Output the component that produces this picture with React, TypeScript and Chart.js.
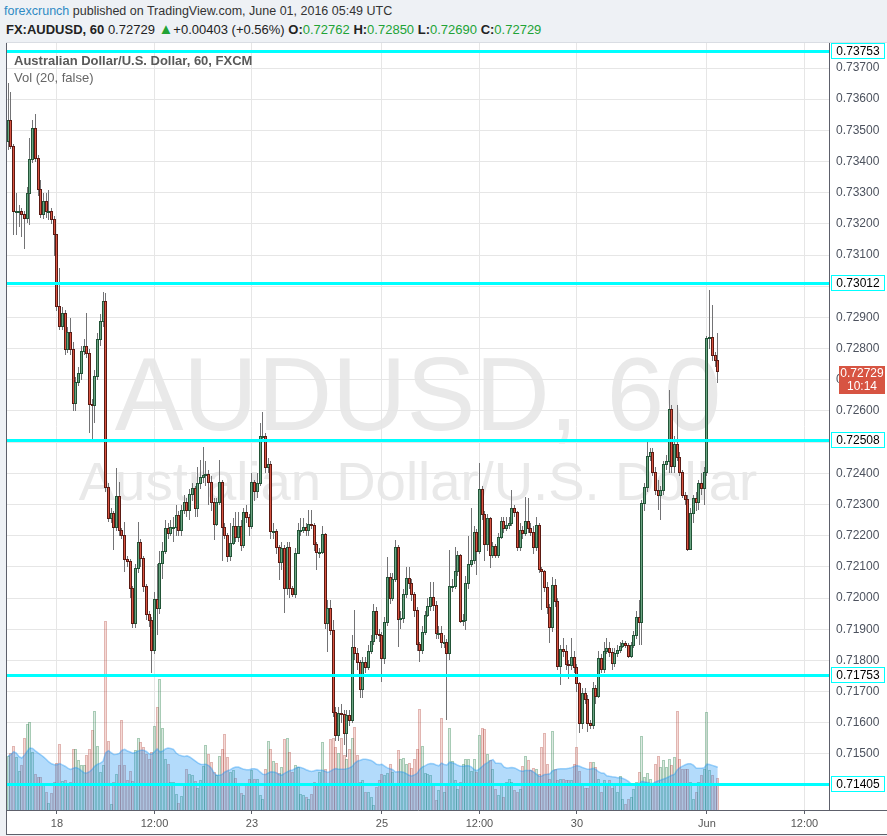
import React, { useEffect, useRef } from "react";
import { Chart, registerables } from "chart.js";

Chart.register(...registerables);

// ---------- data (hourly AUDUSD candles) ----------
const firstOpen = 0.73467;

const closes = [
  0.73533, 0.7345, 0.73241, 0.73241, 0.73241, 0.73231, 0.73218, 0.733, 0.73407, 0.73509, 0.7341, 0.73311,
  0.73231, 0.73274, 0.73241, 0.73241, 0.73215, 0.73167, 0.72938, 0.72874, 0.72913, 0.72798, 0.72852, 0.72798,
  0.72625, 0.72694, 0.72721, 0.72793, 0.72809, 0.72787, 0.72621, 0.72619, 0.72713, 0.7283, 0.72889, 0.72953,
  0.72357, 0.72256, 0.72272, 0.72229, 0.72327, 0.72218, 0.72202, 0.72126, 0.72119, 0.72031, 0.71919, 0.72095,
  0.72179, 0.72127, 0.72039, 0.71948, 0.7193, 0.71834, 0.71996, 0.71969, 0.72114, 0.72152, 0.72224, 0.72208,
  0.72229, 0.72229, 0.72265, 0.72218, 0.72283, 0.72308, 0.72283, 0.72333, 0.72352, 0.72288, 0.72368, 0.72389,
  0.72395, 0.72397, 0.72373, 0.72309, 0.72238, 0.72309, 0.72373, 0.72229, 0.72202,
  0.72135, 0.72178, 0.72231, 0.72197, 0.72231, 0.72169, 0.72275, 0.72261, 0.72231, 0.72371, 0.72343, 0.7237,
  0.7252, 0.72521, 0.72421, 0.72429, 0.72215, 0.72215, 0.72165, 0.72115, 0.7216, 0.72031, 0.72165, 0.72031,
  0.72012, 0.72146, 0.72218, 0.72218, 0.72229, 0.72218, 0.72237, 0.72234, 0.72172, 0.72147, 0.72147, 0.72205,
  0.71919, 0.71967, 0.71898, 0.71636, 0.71561, 0.7163,
  0.71627, 0.71568, 0.71625, 0.71609, 0.71844, 0.71825, 0.71794, 0.71707, 0.71796, 0.7178, 0.71831, 0.71863,
  0.71959, 0.71884, 0.71882, 0.71807, 0.71924, 0.72069, 0.72001, 0.7206, 0.72163, 0.71933, 0.71935, 0.72012,
  0.72063, 0.72047, 0.72012, 0.71962, 0.71852, 0.71834, 0.7189, 0.71946, 0.71975, 0.72003, 0.71978, 0.71887,
  0.71887, 0.71858, 0.71858, 0.71825, 0.72039, 0.72039,
  0.72088, 0.72138, 0.71928, 0.7193, 0.72047, 0.72108, 0.72122, 0.72211, 0.72151, 0.72349, 0.72269, 0.72172,
  0.72256, 0.72138, 0.72167, 0.72138, 0.72195, 0.72248, 0.72224, 0.72234, 0.72242, 0.7229, 0.72275, 0.72163,
  0.72218, 0.72208, 0.72248, 0.72224, 0.72213, 0.72165, 0.72233, 0.72092, 0.72088, 0.72035, 0.7197, 0.71906,
  0.72042, 0.71989, 0.71782, 0.71836, 0.7183, 0.71788, 0.71785, 0.71812, 0.71778, 0.71727,
  0.716, 0.71695, 0.71675, 0.71598, 0.71593, 0.71713, 0.71687, 0.71807, 0.71772, 0.71831, 0.71839, 0.71826,
  0.71793, 0.71823, 0.71834, 0.71846, 0.71855, 0.71849, 0.71814, 0.7185, 0.71882, 0.71938, 0.71924, 0.72304,
  0.72355, 0.72456, 0.72467, 0.72403, 0.72345, 0.72331, 0.72347, 0.72429, 0.7244, 0.72605, 0.72424, 0.72494,
  0.72454, 0.72405, 0.72331, 0.72317, 0.72156, 0.72272, 0.72322, 0.72307, 0.72368, 0.72352, 0.72403, 0.72833,
  0.72838, 0.7278, 0.72762, 0.72729,
];

const highs = [
  0.73651, 0.73624, 0.73455, 0.73298, 0.7326, 0.7325, 0.7324, 0.73319, 0.73475, 0.73533, 0.73551, 0.7342,
  0.73341, 0.733, 0.733, 0.73309, 0.7325, 0.73225, 0.73167, 0.73058, 0.72935, 0.72925, 0.7287, 0.72897,
  0.7282, 0.7271, 0.7274, 0.7281, 0.7283, 0.72913, 0.728, 0.7264, 0.7273, 0.7285, 0.7291, 0.72982,
  0.72977, 0.7237, 0.7229, 0.7228, 0.72416, 0.72373, 0.72225, 0.72245, 0.72135, 0.72125, 0.7204, 0.7211,
  0.72245, 0.7219, 0.72135, 0.72045, 0.7196, 0.7194, 0.7202, 0.7211, 0.7215, 0.7218, 0.7225, 0.7224,
  0.7225, 0.7226, 0.723, 0.7228, 0.723, 0.7233, 0.7232, 0.7235, 0.7237, 0.7236, 0.7242, 0.72443,
  0.72486, 0.7244, 0.7241, 0.7239, 0.7232, 0.7232, 0.72443, 0.7238, 0.7224,
  0.7221, 0.7224, 0.72256, 0.72275, 0.72275, 0.7225, 0.7229, 0.723, 0.7227, 0.724, 0.7238, 0.724,
  0.7256, 0.72598, 0.7253, 0.7245, 0.7244, 0.7224, 0.7222, 0.7217, 0.7218, 0.7217, 0.7218, 0.7218,
  0.7204, 0.7216, 0.7224, 0.72256, 0.72256, 0.7224, 0.72283, 0.72283, 0.7224, 0.7218, 0.7216, 0.7223,
  0.7221, 0.71994, 0.71994, 0.7193, 0.7165, 0.7165,
  0.7166, 0.7164, 0.7164, 0.7164, 0.7188, 0.71962, 0.7184, 0.718, 0.7181, 0.7181, 0.7185, 0.7188,
  0.7198, 0.7197, 0.719, 0.7189, 0.7194, 0.72133, 0.7208, 0.7208, 0.72186, 0.7217, 0.7196, 0.7203,
  0.72101, 0.72101, 0.7206, 0.7202, 0.7197, 0.7186, 0.7191, 0.7196, 0.72, 0.72053, 0.72053, 0.7199,
  0.7191, 0.7191, 0.7188, 0.7187, 0.72154, 0.7206,
  0.72163, 0.7215, 0.7214, 0.7195, 0.7207, 0.722, 0.72288, 0.7223, 0.7222, 0.72432, 0.7236, 0.7228,
  0.7227, 0.7226, 0.7218, 0.72175, 0.7221, 0.7226, 0.7226, 0.7226, 0.7226, 0.72347, 0.723, 0.7228,
  0.7224, 0.7223, 0.72325, 0.7232, 0.7224, 0.7223, 0.7226, 0.7224, 0.721, 0.7209, 0.7205, 0.7198,
  0.72069, 0.7206, 0.72, 0.7185, 0.71871, 0.7185, 0.718, 0.71871, 0.7183, 0.7179,
  0.7173, 0.7171, 0.7171, 0.7169, 0.7161, 0.7173, 0.7172, 0.7183, 0.7182, 0.7186, 0.71871, 0.7186,
  0.7184, 0.7184, 0.7185, 0.7186, 0.71865, 0.71862, 0.71855, 0.7186, 0.71895, 0.7196, 0.71994, 0.72315,
  0.7237, 0.72502, 0.7248, 0.7248, 0.7242, 0.7238, 0.7236, 0.7244, 0.7246, 0.72667, 0.7262, 0.7252,
  0.72619, 0.7247, 0.7241, 0.7234, 0.7233, 0.7229, 0.7233, 0.7234, 0.7238, 0.724, 0.7242, 0.7284,
  0.72988, 0.7294, 0.7279, 0.7285,
];

const lows = [
  0.73437, 0.7344, 0.73164, 0.73164, 0.73191, 0.73159, 0.73119, 0.73202, 0.73196, 0.73395, 0.734, 0.7329,
  0.7322, 0.73215, 0.7322, 0.73212, 0.732, 0.73098, 0.7292, 0.7286, 0.7286, 0.7278, 0.72785, 0.7278,
  0.726, 0.726, 0.7268, 0.727, 0.7278, 0.7277, 0.7253, 0.7251, 0.7256, 0.727, 0.7281, 0.7287,
  0.7234, 0.72245, 0.7224, 0.72154, 0.72215, 0.722, 0.7219, 0.72085, 0.721, 0.72, 0.71905, 0.71905,
  0.7208, 0.721, 0.7202, 0.7193, 0.71908, 0.71759, 0.7182, 0.7188, 0.7195, 0.7206, 0.7214, 0.7219,
  0.722, 0.7218, 0.722, 0.722, 0.722, 0.7227, 0.7226, 0.7225, 0.7231, 0.7226, 0.7226, 0.7235,
  0.7237, 0.7236, 0.723, 0.7228, 0.72186, 0.7223, 0.723, 0.7212, 0.7219,
  0.72117, 0.7212, 0.7217, 0.7218, 0.7218, 0.7215, 0.7216, 0.7224, 0.722, 0.7222, 0.7231, 0.7232,
  0.7236, 0.725, 0.724, 0.724, 0.7219, 0.7219, 0.7214, 0.72058, 0.7209, 0.71951, 0.7201, 0.72,
  0.72004, 0.72, 0.7214, 0.722, 0.7221, 0.722, 0.722, 0.7222, 0.7215, 0.7209, 0.7213, 0.7214,
  0.719, 0.71828, 0.7188, 0.7162, 0.7154, 0.7154,
  0.716, 0.7153, 0.71491, 0.7159, 0.716, 0.718, 0.7177, 0.71679, 0.71679, 0.7176, 0.7177, 0.7182,
  0.7185, 0.7187, 0.7186, 0.71732, 0.7179, 0.7191, 0.7198, 0.7199, 0.7205, 0.71844, 0.719, 0.7192,
  0.72, 0.7203, 0.7199, 0.7194, 0.7183, 0.71796, 0.7182, 0.7188, 0.7194, 0.7196, 0.7196, 0.7187,
  0.7187, 0.7184, 0.7184, 0.71609, 0.718, 0.7202,
  0.7203, 0.7207, 0.7192, 0.7191, 0.71898, 0.7203, 0.721, 0.7211, 0.72074, 0.7214, 0.7225, 0.7212,
  0.7215, 0.72096, 0.7213, 0.7213, 0.7213, 0.7219, 0.7221, 0.72215, 0.7222, 0.7223, 0.7226, 0.7215,
  0.7215, 0.7219, 0.722, 0.7221, 0.722, 0.7214, 0.7215, 0.7208, 0.71962, 0.7202, 0.7195, 0.71855,
  0.7189, 0.7197, 0.7177, 0.71721, 0.7181, 0.7177, 0.7174, 0.7177, 0.7176, 0.717,
  0.71568, 0.7158, 0.7166, 0.7157, 0.7158, 0.7158, 0.7166, 0.7168, 0.71759, 0.7176, 0.7182, 0.7181,
  0.71769, 0.7178, 0.7181, 0.71825, 0.7184, 0.7184, 0.71807, 0.71807, 0.7184, 0.7187, 0.7185, 0.7185,
  0.7228, 0.7234, 0.7244, 0.7239, 0.7233, 0.72283, 0.7225, 0.7233, 0.7241, 0.724, 0.724, 0.724,
  0.7244, 0.7239, 0.7232, 0.723, 0.7215, 0.72156, 0.7224, 0.7228, 0.72283, 0.7233, 0.723, 0.7239,
  0.728, 0.7276, 0.7274, 0.7269,
];

const volumes = [
  54, 57, 64, 53, 39, 45, 72, 86, 88, 58, 36, 33, 33, 26, 18, 7, 17, 28, 47, 66, 29, 30, 26, 28, 61, 61, 50, 45,
  45, 55, 61, 80, 99, 64, 38, 45, 189, 69, 6, 28, 36, 45, 90, 45, 30, 39, 29, 60, 72, 68, 63, 56, 51, 58, 84, 103,
  131, 82, 51, 46, 28, 28, 16, 7, 14, 25, 41, 36, 35, 29, 22, 30, 44, 65, 56, 48, 38, 35, 54, 61, 76, 53, 38, 40,
  32, 25, 17,
  15, 25, 31, 40, 31, 31, 15, 11, 41, 69, 61, 49, 47, 37, 43, 71, 72, 58, 38, 45, 43, 16, 15, 13, 11, 16, 28, 26,
  38, 68, 41, 26, 71, 72, 63, 57, 72, 55, 51, 61, 72, 83, 55, 28, 30, 18, 18, 13, 5, 23, 30, 36, 35, 37, 46, 38,
  25, 60, 51, 52, 46, 47, 42, 51, 61, 101, 64, 37, 36, 35, 25, 10, 20, 92, 18, 27, 82, 49, 30, 21, 28, 46, 51, 51,
  39, 51, 38, 75,
  82, 81, 56, 50, 41, 21, 15, 25, 13, 28, 31, 28, 20, 18, 21, 44, 54, 50, 40, 42, 41, 36, 63, 77, 46, 31, 79, 41,
  30, 31, 31, 30, 30, 30, 46, 63, 39, 25, 22, 22, 48, 48, 43, 31, 18, 30, 26, 30, 22, 25, 18, 34, 11, 6, 11, 13,
  21, 28, 38, 74, 33, 37, 31, 25, 46, 54, 43, 50, 43, 51, 45, 53, 99, 51, 41, 41, 41, 28, 11, 18, 28, 35, 41, 98,
  40, 35, 25, 32,
];

const levelLines = [0.73753, 0.73012, 0.72508, 0.71753, 0.71405];
const priceTicks = [
  0.714, 0.715, 0.716, 0.717, 0.718, 0.719, 0.72, 0.721, 0.722, 0.723, 0.724, 0.725, 0.726, 0.727, 0.728, 0.729,
  0.73, 0.731, 0.732, 0.733, 0.734, 0.735, 0.736, 0.737,
];
const xTickIdx = [18, 54, 90, 138, 174, 210, 258, 294];
const xTickLabels = ["18", "12:00", "23", "25", "12:00", "30", "Jun", "12:00"];
const countdown = "10:14";
const dayChange = "+0.00403 (+0.56%)";
const maPeriod = 20;

// ---------- styling ----------
const FONT = '"Liberation Sans", Arial, Helvetica, sans-serif';
const UP_FILL = "#6ba583";
const UP_LINE = "#225437";
const DN_FILL = "#d75442";
const DN_LINE = "#5b1a13";
const WICK = "#737375";
const CYAN = "#00ffff";

const opens = closes.map((c, i) => (i === 0 ? firstOpen : closes[i - 1]));
const isUp = closes.map((c, i) => c >= opens[i]);

const snapPlugin = {
  id: "snapBars",
  beforeDatasetDraw(chart: any, args: any) {
    const ds: any = chart.data.datasets[args.index];
    if (!ds.snapKind) return;
    const ctx = chart.ctx;
    const a = chart.chartArea;
    ctx.save();
    ctx.beginPath();
    ctx.rect(a.left, a.top, a.right - a.left, a.bottom - a.top);
    ctx.clip();
    args.meta.data.forEach((el: any, i: number) => {
      const top = Math.round(Math.min(el.y, el.base));
      let bot = Math.round(Math.max(el.y, el.base));
      if (bot <= top) bot = top + 1;
      const left = Math.round(el.x - 1.5);
      const h = bot - top;
      if (ds.snapKind === "wick") {
        ctx.fillStyle = ds.backgroundColor;
        ctx.fillRect(left + 1, top, 1, h);
      } else if (ds.snapKind === "body") {
        ctx.fillStyle = ds.borderColor[i];
        ctx.fillRect(left, top, 3, h + 1);
        if (h > 1) {
          ctx.fillStyle = ds.backgroundColor[i];
          ctx.fillRect(left + 1, top + 1, 1, h - 1);
        }
      } else {
        ctx.fillStyle = ds.borderColor[i];
        ctx.fillRect(left, top, 1, h);
        ctx.fillRect(left + 2, top, 1, h);
        ctx.fillRect(left + 1, top, 1, 1);
        ctx.fillStyle = ds.backgroundColor[i];
        ctx.fillRect(left + 1, top + 1, 1, h - 1);
      }
    });
    ctx.restore();
    return false;
  },
};

const panelPlugin = {
  id: "panel",
  beforeDraw(chart: any) {
    const ctx = chart.ctx;
    const a = chart.chartArea;
    ctx.save();
    ctx.fillStyle = "#ffffff";
    ctx.fillRect(a.left - 1, 0, chart.width - a.left + 1, a.bottom + 24);
    const cx = (a.left + a.right) / 2;
    ctx.fillStyle = "#e9e9e9";
    ctx.textAlign = "center";
    ctx.textBaseline = "alphabetic";
    ctx.font = `103px ${FONT}`;
    ctx.fillText("AUDUSD, 60", cx, a.top + 387);
    ctx.font = `54.5px ${FONT}`;
    ctx.fillText("Australian Dollar/U.S. Dollar", cx, a.top + 457);
    ctx.restore();
  },
  afterDatasetsDraw(chart: any) {
    const ctx = chart.ctx;
    const a = chart.chartArea;
    const ys = chart.scales.y;
    ctx.save();
    ctx.fillStyle = CYAN;
    levelLines.forEach((v) => {
      const y = Math.round(ys.getPixelForValue(v));
      ctx.fillRect(a.left, y - 1, a.right - a.left, 3);
    });
    ctx.restore();
  },
  afterDraw(chart: any) {
    const ctx = chart.ctx;
    const a = chart.chartArea;
    const ys = chart.scales.y;
    ctx.save();
    // panel frame
    ctx.fillStyle = "#5d606b";
    ctx.fillRect(a.left - 1, 0, 1, a.bottom + 24);
    ctx.fillRect(a.right, a.bottom, chart.width - a.right, 1);
    ctx.fillRect(a.left - 1, a.bottom + 24, chart.width - a.left + 1, 1);
    ctx.fillStyle = "#d9dde3";
    ctx.fillRect(a.left - 1, 0, chart.width - a.left + 1, 1);
    // level labels
    ctx.font = `12px ${FONT}`;
    ctx.textAlign = "center";
    ctx.textBaseline = "middle";
    const lx = a.right + 2;
    const lw = 54;
    levelLines.forEach((v) => {
      const y = Math.round(ys.getPixelForValue(v));
      ctx.fillStyle = "#ffffff";
      ctx.fillRect(lx, y - 8, lw, 16);
      ctx.strokeStyle = CYAN;
      ctx.lineWidth = 1;
      ctx.strokeRect(lx + 0.5, y - 7.5, lw - 1, 15);
      ctx.fillStyle = "#000000";
      ctx.fillText(v.toFixed(5), lx + lw / 2, y + 0.5);
    });
    // last price label
    const last = closes[closes.length - 1];
    const py = Math.round(ys.getPixelForValue(last));
    const rx = a.right + 10;
    ctx.fillStyle = isUp[isUp.length - 1] ? UP_FILL : DN_FILL;
    ctx.fillRect(rx, py - 5, 46, 28);
    ctx.fillStyle = "#ffffff";
    ctx.fillText(last.toFixed(5), rx + 23, py + 2.5);
    ctx.fillText(countdown, rx + 23, py + 15.5);
    ctx.restore();
  },
};

export default function App() {
  const ref = useRef<HTMLCanvasElement | null>(null);

  useEffect(() => {
    document.body.style.margin = "0";
    const canvas = ref.current;
    if (!canvas) return;

    const ma = volumes.map((v, i) => {
      const s = Math.max(0, i - maPeriod + 1);
      const win = volumes.slice(s, i + 1);
      return win.reduce((p, q) => p + q, 0) / win.length;
    });

    const chart = new Chart(canvas, {
      type: "bar",
      data: {
        datasets: [
          {
            type: "bar",
            snapKind: "vol",
            order: 4,
            yAxisID: "yv",
            grouped: false,
            barThickness: 3,
            data: volumes.map((v, i) => ({ x: i, y: v })),
            backgroundColor: isUp.map((u) => (u ? "rgba(107,165,131,0.24)" : "rgba(215,84,66,0.22)")),
            borderColor: isUp.map((u) => (u ? "rgba(60,140,90,0.45)" : "rgba(180,70,60,0.4)")),
          } as any,
          {
            type: "line",
            order: 3,
            yAxisID: "yv",
            data: ma.map((v, i) => ({ x: i, y: v })),
            borderColor: "rgba(33,150,243,0.4)",
            borderWidth: 1.5,
            backgroundColor: "rgba(33,150,243,0.34)",
            fill: "origin",
            pointRadius: 0,
            tension: 0,
          } as any,
          {
            type: "bar",
            snapKind: "wick",
            order: 2,
            yAxisID: "y",
            grouped: false,
            barThickness: 1,
            data: closes.map((c, i) => ({ x: i, y: [lows[i], highs[i]] })),
            backgroundColor: WICK,
          } as any,
          {
            type: "bar",
            snapKind: "body",
            order: 1,
            yAxisID: "y",
            grouped: false,
            barThickness: 3,
            data: closes.map((c, i) => ({ x: i, y: [opens[i], c] })),
            backgroundColor: isUp.map((u) => (u ? UP_FILL : DN_FILL)),
            borderColor: isUp.map((u) => (u ? UP_LINE : DN_LINE)),
          } as any,
        ],
      },
      options: {
        animation: false,
        responsive: false,
        maintainAspectRatio: false,
        devicePixelRatio: 1,
        events: [],
        layout: { padding: { left: 7, top: 1, right: 0, bottom: 2 } },
        plugins: { legend: { display: false }, tooltip: { enabled: false } },
        scales: {
          x: {
            type: "linear",
            position: "bottom",
            min: -0.46,
            max: 303.08,
            offset: false,
            afterBuildTicks: (s: any) => {
              s.ticks = xTickIdx.map((v) => ({ value: v }));
            },
            afterFit: (s: any) => {
              s.height = 24;
              s.paddingLeft = 0;
              s.paddingRight = 0;
            },
            ticks: {
              autoSkip: false,
              maxRotation: 0,
              padding: 3,
              color: "#555",
              font: { family: FONT, size: 11 },
              callback: (v: any) => xTickLabels[xTickIdx.indexOf(v)] ?? "",
            },
            grid: { offset: false, color: "#e6e6e6", tickColor: "#5d606b", tickLength: 4, drawTicks: true },
            border: { display: true, color: "#5d606b" },
          },
          y: {
            type: "linear",
            position: "right",
            min: 0.713203,
            max: 0.737802,
            afterBuildTicks: (s: any) => {
              s.ticks = priceTicks.map((v) => ({ value: v }));
            },
            afterFit: (s: any) => {
              s.width = 58;
              s.paddingTop = 0;
              s.paddingBottom = 0;
            },
            ticks: {
              autoSkip: false,
              padding: 7,
              color: "#4c525e",
              font: { family: FONT, size: 12 },
              callback: (v: any) => Number(v).toFixed(5),
            },
            grid: { color: "#e6e6e6", drawTicks: false },
            border: { display: true, color: "#5d606b" },
          },
          yv: { type: "linear", display: false, min: 0, max: 767 },
        },
      } as any,
      plugins: [panelPlugin, snapPlugin],
    } as any);

    return () => chart.destroy();
  }, []);

  const n = closes.length;
  const green = { color: "#21a336" };
  return (
    <div
      style={{
        position: "relative",
        width: 887,
        height: 836,
        background: "#eef1f5",
        overflow: "hidden",
        fontFamily: FONT,
      }}
    >
      <div style={{ position: "absolute", left: 4, top: 3, fontSize: 12.5, lineHeight: "16px", color: "#333", whiteSpace: "nowrap" }}>
        <span style={{ color: "#2f8ac4" }}>forexcrunch</span> published on TradingView.com, June 01, 2016 05:49 UTC
      </div>
      <div style={{ position: "absolute", left: 6, top: 21, fontSize: 13, lineHeight: "16px", color: "#222", whiteSpace: "nowrap" }}>
        <b>FX:AUDUSD, 60</b> {closes[n - 1].toFixed(5)} <span style={{ ...green, fontSize: 15 }}>▲</span>
        {dayChange} <b>O:</b>
        <span style={green}>{opens[n - 1].toFixed(5)}</span> <b>H:</b>
        <span style={green}>{highs[n - 1].toFixed(5)}</span> <b>L:</b>
        <span style={green}>{lows[n - 1].toFixed(5)}</span> <b>C:</b>
        <span style={green}>{closes[n - 1].toFixed(5)}</span>
      </div>
      <canvas
        ref={ref}
        width={887}
        height={794}
        style={{ position: "absolute", left: 0, top: 42, width: 887, height: 794 }}
      />
      <div style={{ position: "absolute", left: 14, top: 53, fontSize: 13, lineHeight: "16px", fontWeight: "bold", color: "#5a5a5a", whiteSpace: "nowrap" }}>
        Australian Dollar/U.S. Dollar, 60, FXCM
      </div>
      <div style={{ position: "absolute", left: 14, top: 70, fontSize: 13, lineHeight: "16px", color: "#666", whiteSpace: "nowrap" }}>
        Vol (20, false)
      </div>
    </div>
  );
}
